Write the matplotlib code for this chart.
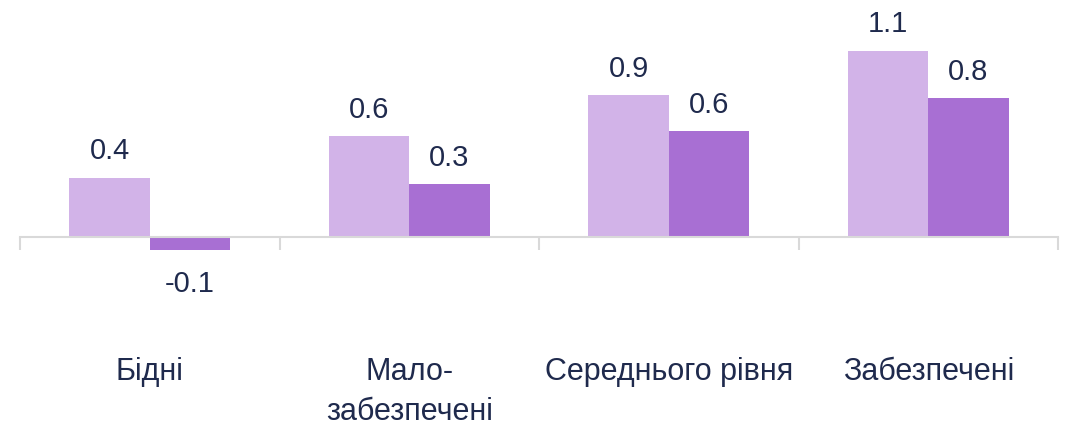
import numpy as np
import matplotlib.pyplot as plt

# categories and values
categories = ['Бідні', 'Мало-\nзабезпечені', 'Середнього рівня', 'Забезпечені']
series_a = [0.36, 0.61, 0.86, 1.13]
series_b = [-0.08, 0.32, 0.64, 0.84]

col_a = '#D2B3E8'
col_b = '#A86FD3'
txt = '#1F2A4D'
grid_col = '#D9D9D9'

plt.rcParams['font.family'] = ['Liberation Sans', 'DejaVu Sans']

fig = plt.figure(figsize=(10.66, 4.25), dpi=100)
ax = fig.add_axes([20 / 1066, 0, 1038 / 1066, 1])

x = np.arange(len(categories))
w = 0.31
bars_a = ax.bar(x - w / 2, series_a, w, color=col_a)
bars_b = ax.bar(x + w / 2, series_b, w, color=col_b)

for bars, vals in [(bars_a, series_a), (bars_b, series_b)]:
    for b, v in zip(bars, vals):
        cx = b.get_x() + b.get_width() / 2
        if v >= 0:
            ax.annotate(f'{v:.1f}', (cx, v), xytext=(0, 9), textcoords='offset points',
                        ha='center', va='bottom', fontsize=21, color=txt)
        else:
            ax.annotate(f'{v:.1f}', (cx, v), xytext=(0, -14), textcoords='offset points',
                        ha='center', va='top', fontsize=21, color=txt)

for xi, c in zip(x, categories):
    ax.text(xi, -0.73, c, ha='center', va='top', fontsize=22, color=txt,
            linespacing=1.4)

ax.set_xlim(-0.5, 3.5)
ax.set_ylim(-188 / 165, (425 - 188) / 165)

for s in ['top', 'right', 'left']:
    ax.spines[s].set_visible(False)
ax.spines['bottom'].set_position(('data', 0))
ax.spines['bottom'].set_color(grid_col)
ax.spines['bottom'].set_linewidth(1.5)
ax.set_yticks([])
ax.set_xticks(np.arange(-0.5, 4, 1))
ax.set_xticklabels([])
ax.tick_params(axis='x', direction='out', length=9, width=1.5, color=grid_col)
ax.patch.set_visible(False)

fig.savefig('out.png', dpi=100)
